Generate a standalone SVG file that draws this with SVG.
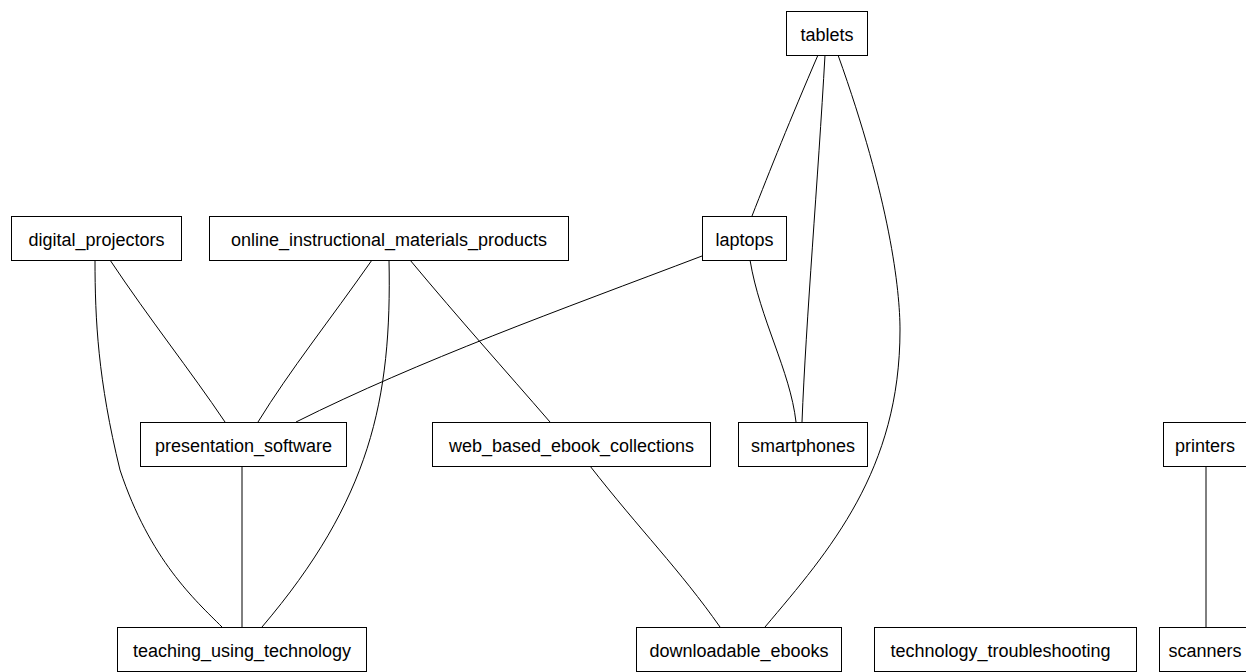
<svg xmlns="http://www.w3.org/2000/svg" width="1246" height="672" viewBox="0 0 1246 672">
<style>
.n rect{fill:#fff;stroke:#000;stroke-width:1}
.n text{font-family:"Liberation Sans",Arial,sans-serif;font-size:18px;fill:#000;text-anchor:middle}
.e path{fill:none;stroke:#000;stroke-width:1}
</style>
<rect width="1246" height="672" fill="#fff"/>
<g class="e" id="edges">
<path d="M95,260 C95,320 98,380 120,470 C150,560 195,600 222,627"/>
<path d="M110,260 C150,320 190,370 225,422"/>
<path d="M372,260 C330,320 290,370 258,422"/>
<path d="M389,260 C392,400 370,500 262,627"/>
<path d="M410,260 C460,320 505,370 550,422"/>
<path d="M702,256 C560,310 420,360 296,422"/>
<path d="M242,466 L242,627"/>
<path d="M818,55 C790,120 770,170 752,216"/>
<path d="M825,55 C818,180 806,320 802,422"/>
<path d="M838,55 C890,200 900,290 900,330 C900,470 830,550 765,627"/>
<path d="M750,260 C760,320 790,370 796,422"/>
<path d="M590,466 C640,530 680,570 720,627"/>
<path d="M1206,466 L1206,627"/>
</g>
<g class="n" id="tablets"><rect x="786.5" y="11.5" width="81" height="44"/><text x="827" y="41">tablets</text></g>
<g class="n" id="digital_projectors"><rect x="11.5" y="216.5" width="170" height="44"/><text x="96.5" y="246">digital_projectors</text></g>
<g class="n" id="online_instructional_materials_products"><rect x="209.5" y="216.5" width="359" height="44"/><text x="389" y="246">online_instructional_materials_products</text></g>
<g class="n" id="laptops"><rect x="702.5" y="216.5" width="84" height="44"/><text x="744.5" y="246">laptops</text></g>
<g class="n" id="presentation_software"><rect x="140.5" y="422.5" width="206" height="44"/><text x="243.5" y="452">presentation_software</text></g>
<g class="n" id="web_based_ebook_collections"><rect x="432.5" y="422.5" width="278" height="44"/><text x="571.5" y="452">web_based_ebook_collections</text></g>
<g class="n" id="smartphones"><rect x="738.5" y="422.5" width="129" height="44"/><text x="803" y="452">smartphones</text></g>
<g class="n" id="printers"><rect x="1163.5" y="422.5" width="90" height="44"/><text x="1205" y="452">printers</text></g>
<g class="n" id="teaching_using_technology"><rect x="117.5" y="627.5" width="249" height="44"/><text x="242" y="657">teaching_using_technology</text></g>
<g class="n" id="downloadable_ebooks"><rect x="636.5" y="627.5" width="205" height="44"/><text x="739" y="657">downloadable_ebooks</text></g>
<g class="n" id="technology_troubleshooting"><rect x="874.5" y="627.5" width="262" height="44"/><text x="1000.5" y="657">technology_troubleshooting</text></g>
<g class="n" id="scanners"><rect x="1159.5" y="627.5" width="95" height="44"/><text x="1205" y="657">scanners</text></g>
</svg>
